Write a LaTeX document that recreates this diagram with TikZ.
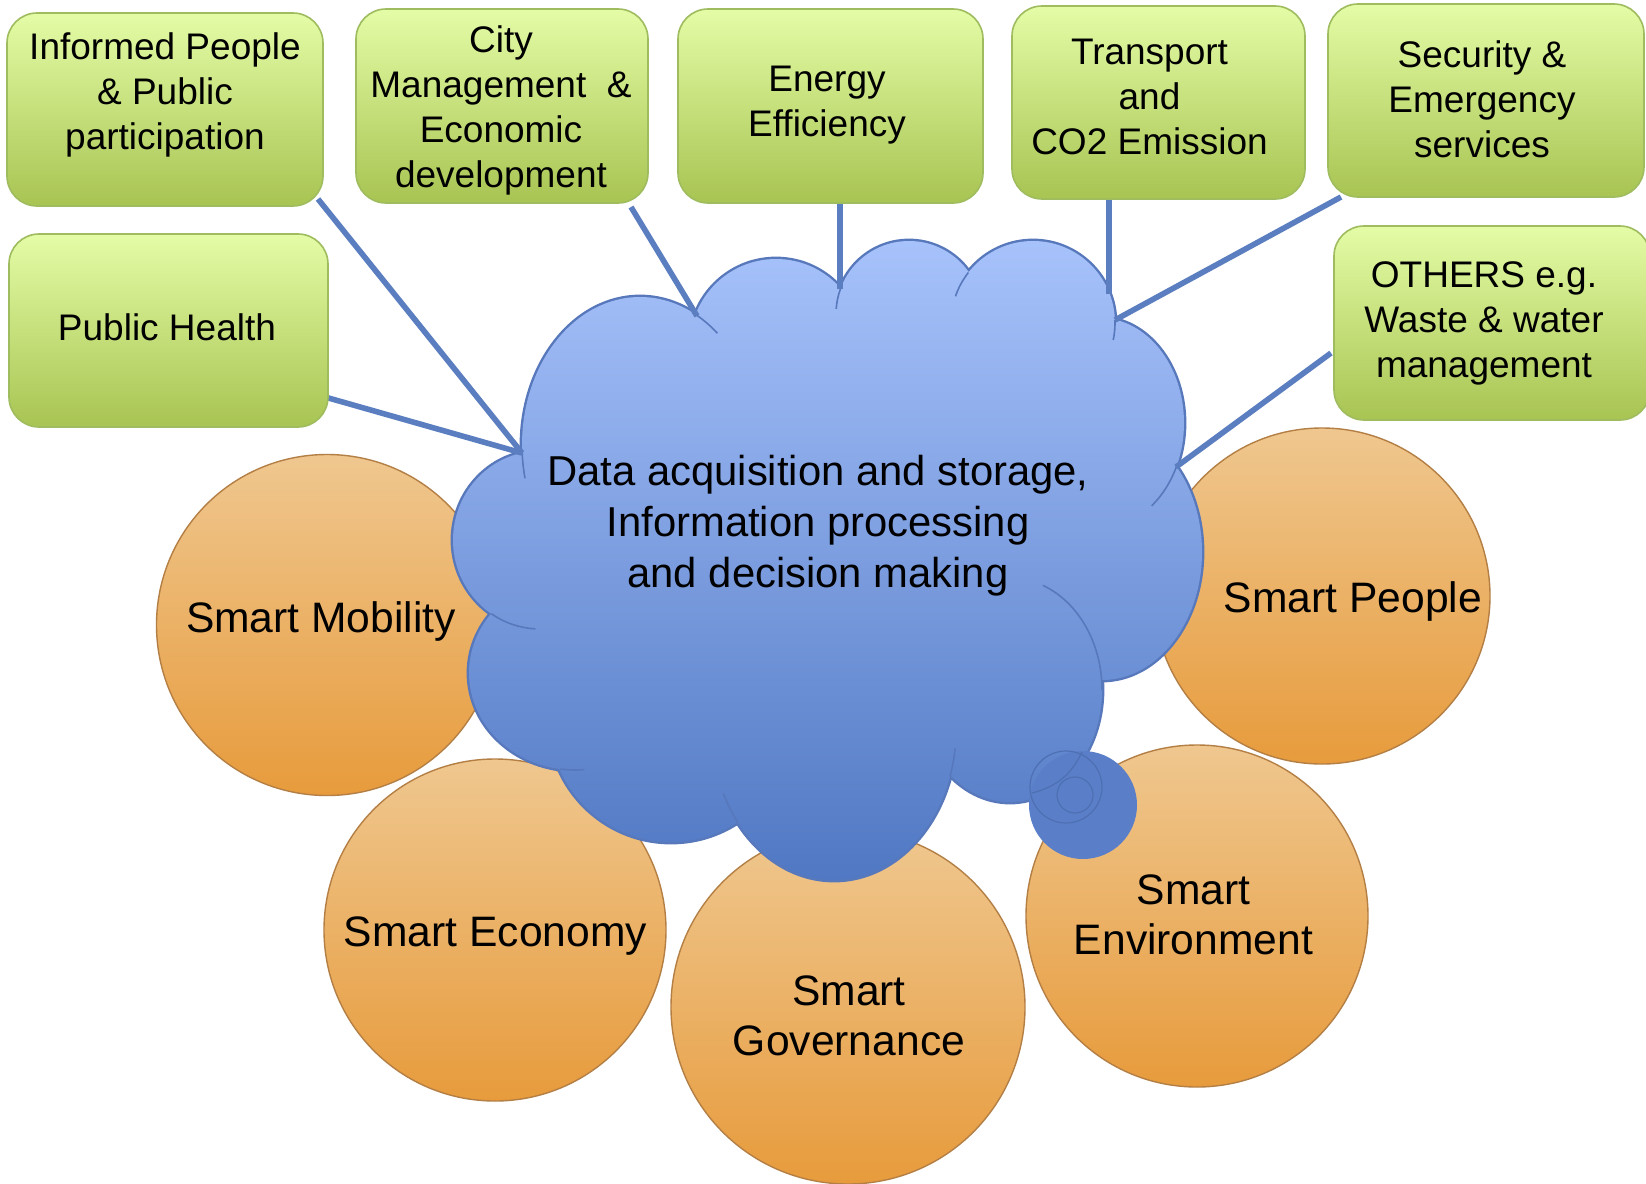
\documentclass[tikz,border=0pt]{standalone}
\usepackage{fontspec}
\setmainfont{Liberation Sans}
\definecolor{gTop}{HTML}{E4FCA6}
\definecolor{gBot}{HTML}{A8C452}
\definecolor{gEdge}{HTML}{9FBC5F}
\definecolor{oTop}{HTML}{EFC78F}
\definecolor{oBot}{HTML}{E79B3C}
\definecolor{oEdge}{HTML}{B47F45}
\definecolor{cTop}{HTML}{A7C2FB}
\definecolor{cBot}{HTML}{5078C3}
\definecolor{cEdge}{HTML}{5878BC}
\definecolor{bubFill}{HTML}{5A7EC8}
\definecolor{ringCol}{HTML}{4E70B2}
\definecolor{lineBlue}{HTML}{5B7EC0}
\tikzset{
  gbox/.style 2 args={draw=gEdge, line width=0.8pt, rounded corners=15pt,
    top color=gTop, bottom color=gBot, minimum width=#1, minimum height=#2,
    inner sep=0pt, outer sep=0pt},
  orb/.style={circle, draw=oEdge, line width=0.7pt, top color=oTop,
    bottom color=oBot, minimum size=#1, inner sep=0pt, outer sep=0pt},
  gtxt/.style={align=center, inner sep=0pt, font=\fontsize{18.5}{22.5}\selectfont},
  otxt/.style={align=center, inner sep=0pt, font=\fontsize{21.3}{25}\selectfont},
  ctxt/.style={align=center, inner sep=0pt, font=\fontsize{20.9}{25.5}\selectfont},
  conn/.style={draw=lineBlue, line width=2.8pt},
  cuspline/.style={draw=cEdge, line width=0.8pt},
  ringline/.style={draw=ringCol, line width=0.6pt},
}
\begin{document}
\begin{tikzpicture}[x=0.5pt, y=-0.5pt]
\useasboundingbox (0,0) rectangle (1646,1184);
\fill[white] (0,0) rectangle (1646,1184);

% orange circles
\node[orb=170.5pt] (mob) at (327,625) {};
\node[orb=168pt] (peo) at (1322,596) {};
\node[orb=171pt] (eco) at (495,930) {};
\node[orb=177pt] (gov) at (848,1007) {};
\node[orb=171pt] (env) at (1197,916) {};
\node[otxt] (mobT) at (321,621) {Smart Mobility};
\node[otxt] (peoT) at (1353,601) {Smart People};
\node[otxt] (ecoT) at (495.5,936) {Smart Economy};
\node[otxt] (govT) at (849,1016) {Smart\\Governance};
\node[otxt] (envT) at (1193.5,915) {Smart\\Environment};

% cloud outline (drawn wide, then covered by the fill)
\draw[cEdge, line width=2.4pt]
  (640,445) ellipse[x radius=118, y radius=148]
  (776,345) circle[radius=86]
  (909,314) circle[radius=73]
  (1033,323) circle[radius=82]
  (1100,423) ellipse[x radius=84, y radius=105]
  (1102,552) ellipse[x radius=100, y radius=128]
  (1010,690) ellipse[x radius=92, y radius=112]
  (834,730) ellipse[x radius=122, y radius=150]
  (671,720) circle[radius=122]
  (575,673) ellipse[x radius=106, y radius=97]
  (540,540) ellipse[x radius=87, y radius=89];
\shade[top color=cTop, bottom color=cBot]
  (640,445) ellipse[x radius=118, y radius=148]
  (776,345) circle[radius=86]
  (909,314) circle[radius=73]
  (1033,323) circle[radius=82]
  (1100,423) ellipse[x radius=84, y radius=105]
  (1102,552) ellipse[x radius=100, y radius=128]
  (1010,690) ellipse[x radius=92, y radius=112]
  (834,730) ellipse[x radius=122, y radius=150]
  (671,720) circle[radius=122]
  (575,673) ellipse[x radius=106, y radius=97]
  (540,540) ellipse[x radius=87, y radius=89]
  (840,560) ellipse[x radius=280, y radius=220];
% inner arc ends of the cloud
\draw[cuspline] ([shift={(640,445)}]177:118 and 148) arc[start angle=177, end angle=167, x radius=118, y radius=148];
\draw[cuspline] ([shift={(640,445)}]-61.6:118 and 148) arc[start angle=-61.6, end angle=-49, x radius=118, y radius=148];
\draw[cuspline] ([shift={(909,314)}]200:73 and 73) arc[start angle=200, end angle=184, x radius=73, y radius=73];
\draw[cuspline] ([shift={(1033,323)}]218:82 and 82) arc[start angle=218, end angle=199, x radius=82, y radius=82];
\draw[cuspline] ([shift={(1033,323)}]-2:82 and 82) arc[start angle=-2, end angle=12, x radius=82, y radius=82];
\draw[cuspline] ([shift={(1100,423)}]24:84 and 105) arc[start angle=24, end angle=52, x radius=84, y radius=105];
\draw[cuspline] ([shift={(1010,690)}]-69:92 and 112) arc[start angle=-69, end angle=0, x radius=92, y radius=112];
\draw[cuspline] ([shift={(834,730)}]18:122 and 150) arc[start angle=18, end angle=7, x radius=122, y radius=150];
\draw[cuspline] ([shift={(834,730)}]142:122 and 150) arc[start angle=142, end angle=155, x radius=122, y radius=150];
\draw[cuspline] ([shift={(575,673)}]98:106 and 97) arc[start angle=98, end angle=85, x radius=106, y radius=97];
\draw[cuspline] ([shift={(540,540)}]124:87 and 89) arc[start angle=124, end angle=93, x radius=87, y radius=89];

% thought bubble
\node[circle, fill=bubFill, minimum size=54pt, inner sep=0pt] (bub) at (1083,805) {};
\draw[ringline] (1066,787) circle[radius=36];
\draw[ringline] (1075,795) circle[radius=18];
\draw[ringline] (1032,793) to[bend right=25] (1082,752);

\node[ctxt] (cloudT) at (818,526) {Data acquisition and storage,\\Information processing\\and decision making};

% connectors
\coordinate (k1) at (522,453);
\coordinate (k2) at (697,316);
\coordinate (k3) at (840,289);
\coordinate (k4) at (1109,294);
\coordinate (k5) at (1115,320);
\coordinate (k6) at (1176,467);
\coordinate (ipS) at (318,199);
\coordinate (phS) at (325,397);
\coordinate (cmS) at (631,207);
\coordinate (eeS) at (840,203);
\coordinate (trS) at (1109,199);
\coordinate (seS) at (1341,197);
\coordinate (otS) at (1331,353);
\draw[conn] (ipS) -- (k1);
\draw[conn] (phS) -- (k1);
\draw[conn] (cmS) -- (k2);
\draw[conn] (eeS) -- (k3);
\draw[conn] (trS) -- (k4);
\draw[conn] (seS) -- (k5);
\draw[conn] (otS) -- (k6);

% green boxes
\node[gbox={158pt}{96.5pt}] (ip) at (165,109.5) {};
\node[gbox={146pt}{97pt}] (cm) at (502,106) {};
\node[gbox={152.5pt}{97pt}] (ee) at (830.5,106) {};
\node[gbox={146.5pt}{96.5pt}] (tr) at (1158.5,102.5) {};
\node[gbox={158pt}{96.5pt}] (se) at (1486,100.5) {};
\node[gbox={159.5pt}{96.5pt}] (ph) at (168.5,330.5) {};
\node[gbox={158pt}{97pt}] (ot) at (1492,323) {};
\node[gtxt] (ipT) at (165,95) {Informed People\\\& Public\\participation};
\node[gtxt] (cmT) at (501,110) {City\\Management\ \ \&\\Economic\\development};
\node[gtxt] (eeT) at (827,104.7) {Energy\\Efficiency};
\node[gtxt] (trT) at (1149.5,96.6) {Transport\\and\\CO2 Emission};
\node[gtxt] (seT) at (1482,99.2) {Security \&\\Emergency\\services};
\node[gtxt] (phT) at (167,327.5) {Public Health};
\node[gtxt] (otT) at (1484,323.7) {OTHERS e.g.\\Waste \& water\\management};
\end{tikzpicture}
\end{document}
